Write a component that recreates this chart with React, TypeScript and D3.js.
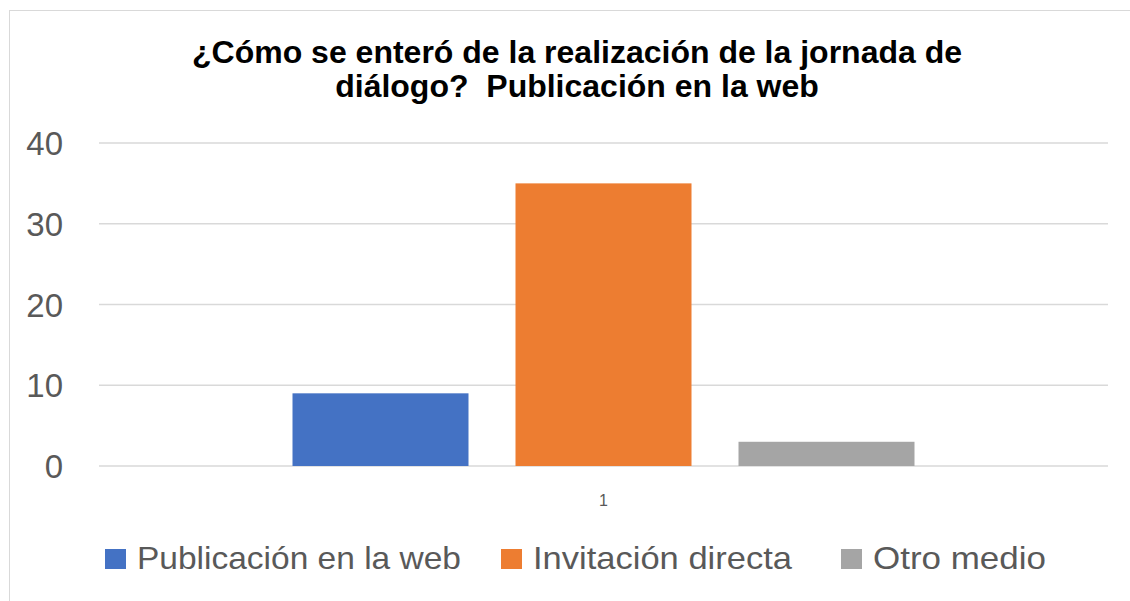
import React, { useEffect, useRef } from "react";
import * as d3 from "d3";

const categories = ["1"];
const seriesNames = ["Publicación en la web", "Invitación directa", "Otro medio"];
const seriesValues = [9, 35, 3];
const seriesColors = ["#4472C4", "#ED7D31", "#A5A5A5"];
const yTicks = [0, 10, 20, 30, 40];
const titleLines = ["¿Cómo se enteró de la realización de la jornada de", "diálogo?  Publicación en la web"];

export default function App() {
  const ref = useRef<SVGSVGElement>(null);
  useEffect(() => {
    const svg = d3.select(ref.current);
    svg.selectAll("*").remove();
    const W = 1130, H = 601;
    const left = 99, right = 1108, top = 143, bottom = 466;

    svg.append("rect").attr("x", 0).attr("y", 0).attr("width", W).attr("height", H).attr("fill", "#fff");
    svg.append("rect").attr("x", 9.5).attr("y", 10.5).attr("width", W + 20).attr("height", H + 20)
      .attr("fill", "none").attr("stroke", "#d9d9d9").attr("stroke-width", 1);

    const y = d3.scaleLinear().domain([0, 40]).range([bottom, top]);
    const x0 = d3.scaleBand().domain(categories).range([left, right]).paddingInner(0).paddingOuter(0);
    const groupW = 622;
    const x1 = d3.scaleBand().domain(seriesNames).range([0, groupW]).paddingInner(47 / 223).paddingOuter(0);

    // gridlines
    svg.append("g").selectAll("line").data(yTicks).join("line")
      .attr("x1", left).attr("x2", right)
      .attr("y1", d => y(d)).attr("y2", d => y(d))
      .attr("stroke", "#d9d9d9").attr("stroke-width", 1.5);

    // tick labels
    svg.append("g").selectAll("text").data(yTicks).join("text")
      .attr("x", 63).attr("y", d => y(d) + 12)
      .attr("text-anchor", "end")
      .attr("font-family", "Liberation Sans, Arial, sans-serif")
      .attr("font-size", 33).attr("fill", "#595959")
      .text(d => String(d));

    // bars
    const g = svg.append("g");
    categories.forEach(cat => {
      const cx = (x0(cat) as number) + x0.bandwidth() / 2 - groupW / 2;
      g.selectAll("rect.bar").data(seriesNames).join("rect")
        .attr("class", "bar")
        .attr("x", s => cx + (x1(s) as number))
        .attr("width", x1.bandwidth())
        .attr("y", (s, i) => y(seriesValues[i]))
        .attr("height", (s, i) => bottom - y(seriesValues[i]))
        .attr("fill", (s, i) => seriesColors[i]);
      svg.append("text").attr("x", (x0(cat) as number) + x0.bandwidth() / 2).attr("y", 506)
        .attr("text-anchor", "middle").attr("font-family", "Liberation Sans, Arial, sans-serif")
        .attr("font-size", 16).attr("fill", "#595959").text(cat);
    });

    // title
    svg.append("g").selectAll("text").data(titleLines).join("text")
      .attr("x", 577).attr("y", (d, i) => 63 + i * 34)
      .attr("text-anchor", "middle")
      .attr("font-family", "Liberation Sans, Arial, sans-serif")
      .attr("font-weight", "bold").attr("font-size", 32).attr("fill", "#000")
      .attr("xml:space", "preserve")
      .style("white-space", "pre")
      .text(d => d);

    // legend
    const legX = [105, 501, 841];
    const legW = [324, 259, 173];
    const lg = svg.append("g");
    seriesNames.forEach((s, i) => {
      lg.append("rect").attr("x", legX[i]).attr("y", 549).attr("width", 21).attr("height", 20).attr("fill", seriesColors[i]);
      lg.append("text").attr("x", legX[i] + 32).attr("y", 569)
        .attr("font-family", "Liberation Sans Narrow, Liberation Sans, Arial, sans-serif")
        .attr("font-size", 32).attr("fill", "#595959")
        .attr("textLength", legW[i]).attr("lengthAdjust", "spacingAndGlyphs")
        .text(s);
    });
  }, []);
  return (
    <svg ref={ref} width={1130} height={601} style={{ position: "absolute", left: 0, top: 0, display: "block" }} />
  );
}
